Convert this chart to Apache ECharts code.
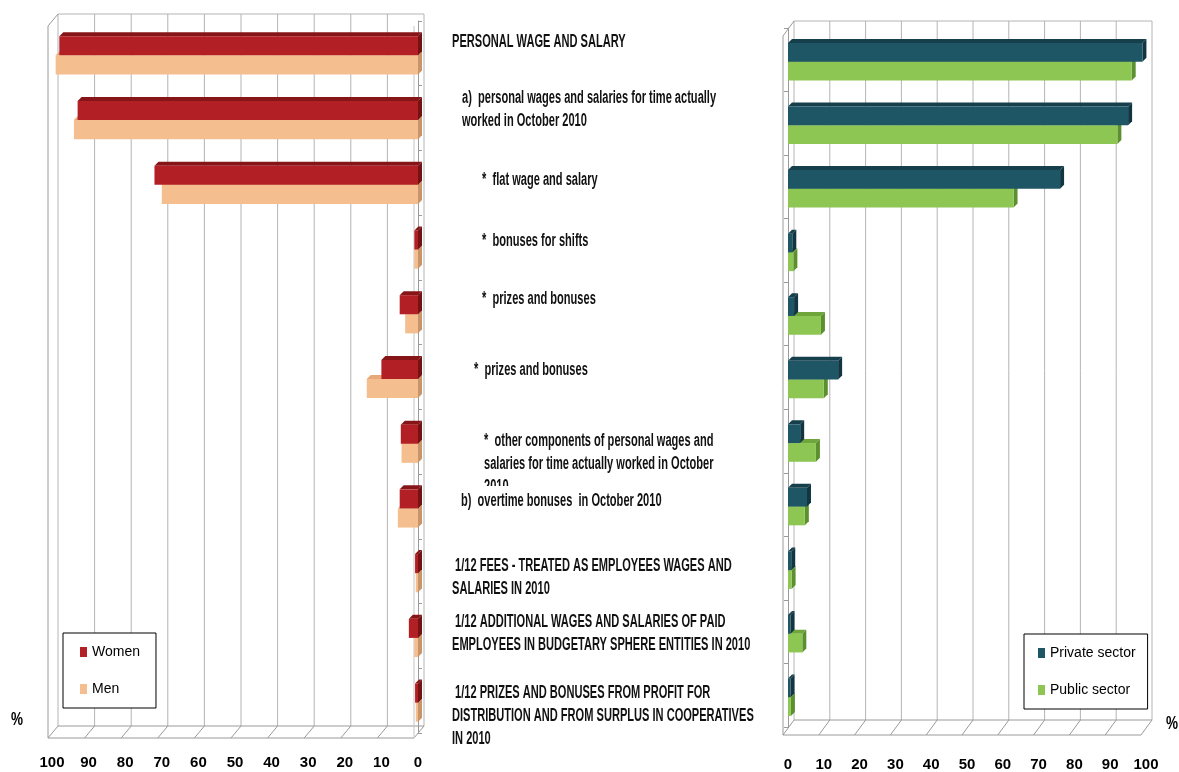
<!DOCTYPE html>
<html><head><meta charset="utf-8">
<script src="https://cdn.jsdelivr.net/npm/echarts@6/dist/echarts.min.js"></script>
<style>html,body{margin:0;padding:0;background:#fff}#c{width:1179px;height:772px}</style>
</head><body><div id="c"></div>
<script>
// ---------------- DATA ----------------
const categories = [
  'PERSONAL WAGE AND SALARY',
  'a)  personal wages and salaries for time actually\nworked in October 2010',
  '*  flat wage and salary',
  '*  bonuses for shifts',
  '*  prizes and bonuses',
  '*  prizes and bonuses',
  '*  other components of personal wages and\nsalaries for time actually worked in October\n2010',
  'b)  overtime bonuses  in October 2010',
  ' 1/12 FEES - TREATED AS EMPLOYEES WAGES AND\nSALARIES IN 2010',
  ' 1/12 ADDITIONAL WAGES AND SALARIES OF PAID\nEMPLOYEES IN BUDGETARY SPHERE ENTITIES IN 2010',
  ' 1/12 PRIZES AND BONUSES FROM PROFIT FOR\nDISTRIBUTION AND FROM SURPLUS IN COOPERATIVES\nIN 2010'
];
const women         = [98, 93, 72, 1, 5, 10, 4.7, 5, 0.8, 2.5, 0.8];
const men           = [99, 94, 70, 1, 3.5, 14, 4.5, 5.5, 0.6, 1, 0.6];
const privateSector = [99, 95, 76, 1.2, 1.7, 14, 3.4, 5.3, 0.9, 0.7, 0.7];
const publicSector  = [96, 92, 63, 1.5, 9.2, 10, 7.8, 4.7, 1, 4, 0.8];
const axisTicks     = [0, 10, 20, 30, 40, 50, 60, 70, 80, 90, 100];
const seriesNames   = { women: 'Women', men: 'Men', priv: 'Private sector', pub: 'Public sector' };
const unitLabel     = '%';

// ---------------- LAYOUT / STYLE ----------------
const FONT = '"Liberation Sans", Arial, sans-serif';
const GL = { left: 52, top: 21, width: 366, height: 712 };
const GR = { left: 788, top: 28, width: 358, height: 699 };
const labelX  = [452, 462, 482, 482, 482, 474, 484, 461, 452, 452, 452];
const labelDy = [-11, -20, -3, -7, -13, -7, -1, -5, -5, -14, -8];
const LABEL_SCALE_X = 0.615;

const chart = echarts.init(document.getElementById('c'), null, { renderer: 'canvas' });

function bar3d(front, topC, sideC, slot) {
  return function (params, api) {
    const v = api.value(0), c = api.value(1);
    const p0 = api.coord([0, c]), p1 = api.coord([v, c]);
    const band = api.size([0, 1])[1];
    const h = band * 0.295;
    const y = p0[1] + 2 - h + slot * h;
    const xl = Math.min(p0[0], p1[0]), xr = Math.max(p0[0], p1[0]);
    const d = 4;
    return {
      type: 'group',
      children: [
        { type: 'polygon', shape: { points: [[xl, y], [xr, y], [xr + d, y - d], [xl + d, y - d]] }, style: { fill: topC } },
        { type: 'polygon', shape: { points: [[xr, y], [xr + d, y - d], [xr + d, y + h - d], [xr, y + h]] }, style: { fill: sideC } },
        { type: 'rect', shape: { x: xl, y: y, width: Math.max(xr - xl, 0.5), height: h }, style: { fill: front } }
      ]
    };
  };
}
const toPairs = arr => arr.map((v, i) => [v, i]);

const xAxisCommon = {
  type: 'value', min: axisTicks[0], max: axisTicks[axisTicks.length - 1], interval: axisTicks[1] - axisTicks[0],
  axisLine: { show: false }, axisTick: { show: false }, splitLine: { show: false },
  axisLabel: { fontSize: 15, fontWeight: 'bold', color: '#000', fontFamily: FONT }
};
const yAxisCommon = {
  type: 'category', data: categories, inverse: true,
  axisLine: { show: true, lineStyle: { color: '#9a9a9a', width: 1 } },
  axisTick: { show: true, length: 4, lineStyle: { color: '#9a9a9a' } },
  axisLabel: { show: false }, splitLine: { show: false }
};
const legendCommon = {
  orient: 'vertical', itemWidth: 7, itemHeight: 10, itemGap: 19,
  borderColor: '#000', borderWidth: 1, backgroundColor: '#fff',
  textStyle: { fontSize: 14, color: '#000', fontFamily: FONT, lineHeight: 18 },
  selectedMode: false
};

const option = {
  animation: false,
  backgroundColor: '#fff',
  textStyle: { fontFamily: FONT },
  grid: [GL, GR],
  xAxis: [
    Object.assign({}, xAxisCommon, { gridIndex: 0, inverse: true, axisLabel: Object.assign({}, xAxisCommon.axisLabel, { margin: 22 }) }),
    Object.assign({}, xAxisCommon, { gridIndex: 1, axisLabel: Object.assign({}, xAxisCommon.axisLabel, { margin: 30 }) })
  ],
  yAxis: [
    Object.assign({}, yAxisCommon, { gridIndex: 0, position: 'right', offset: 6 }),
    Object.assign({}, yAxisCommon, { gridIndex: 1, position: 'left', offset: 5 })
  ],
  legend: [
    Object.assign({}, legendCommon, {
      left: 63, top: 633, padding: [10, 16, 10, 17],
      data: [{ name: seriesNames.women, icon: 'rect' }, { name: seriesNames.men, icon: 'rect' }]
    }),
    Object.assign({}, legendCommon, {
      left: 1024, top: 634, padding: [10, 12, 10, 14],
      data: [{ name: seriesNames.priv, icon: 'rect' }, { name: seriesNames.pub, icon: 'rect' }]
    })
  ],
  series: [
    { type: 'custom', name: seriesNames.men, xAxisIndex: 0, yAxisIndex: 0, encode: { x: 0, y: 1 },
      itemStyle: { color: '#F5BE8F' }, renderItem: bar3d('#F5BE8F', '#E6AA78', '#C8956A', 1), data: toPairs(men) },
    { type: 'custom', name: seriesNames.women, xAxisIndex: 0, yAxisIndex: 0, encode: { x: 0, y: 1 },
      itemStyle: { color: '#B21F24' }, renderItem: bar3d('#B21F24', '#861518', '#731113', 0), data: toPairs(women) },
    { type: 'custom', name: seriesNames.pub, xAxisIndex: 1, yAxisIndex: 1, encode: { x: 0, y: 1 },
      itemStyle: { color: '#8DC653' }, renderItem: bar3d('#8DC653', '#6FA53A', '#5C8F2E', 1), data: toPairs(publicSector) },
    { type: 'custom', name: seriesNames.priv, xAxisIndex: 1, yAxisIndex: 1, encode: { x: 0, y: 1 },
      itemStyle: { color: '#1F5666' }, renderItem: bar3d('#1F5666', '#163F4C', '#123542', 0), data: toPairs(privateSector) }
  ]
};
chart.setOption(option);

// ---------------- 3D frame + middle labels ----------------
function frame(xi, G, back, front, innerEdge) {
  const els = [];
  const xs = axisTicks.map(v => chart.convertToPixel({ xAxisIndex: xi }, v));
  const xMin = Math.min.apply(null, xs), xMax = Math.max.apply(null, xs);
  const topB = G.top + back[1], botB = G.top + G.height + back[1];
  const topF = G.top + front[1], botF = G.top + G.height + front[1];
  const ln = (x1, y1, x2, y2, c) => ({ type: 'line', silent: true, z: -1,
    shape: { x1, y1, x2, y2 }, style: { stroke: c || '#b4b4b4', lineWidth: 1 } });
  xs.forEach(x => {
    els.push(ln(x + back[0], topB, x + back[0], botB));
    els.push(ln(x + back[0], botB, x + front[0], botF, '#9a9a9a'));
  });
  els.push(ln(xMin + back[0], topB, xMax + back[0], topB));
  els.push(ln(xMin + back[0], botB, xMax + back[0], botB, '#9a9a9a'));
  els.push(ln(xMin + front[0], botF, xMax + front[0], botF, '#9a9a9a'));
  els.push(ln(xMin + front[0], topF, xMin + front[0], botF, '#9a9a9a'));
  els.push(ln(xMin + front[0], topF, xMin + back[0], topB, '#9a9a9a'));
  if (innerEdge) els.push(ln(xMax + front[0], topF, xMax + front[0], botF, '#c4c4c4'));
  return els;
}

const graphics = [];
graphics.push.apply(graphics, frame(0, GL, [6, -7], [-4, 5], true));
graphics.push.apply(graphics, frame(1, GR, [6, -7], [-5, 8], false));

const PAD_TOP = 4;
categories.forEach((c, i) => {
  const yc = chart.convertToPixel({ yAxisIndex: 0 }, i);
  graphics.push({
    type: 'text', z: 10, silent: true,
    x: labelX[i], y: yc + labelDy[i] - 11.5 - PAD_TOP,
    scaleX: LABEL_SCALE_X,
    style: {
      text: c, fill: '#111', font: 'bold 18px ' + FONT, lineHeight: 23,
      verticalAlign: 'top', align: 'left', backgroundColor: '#fff', padding: [PAD_TOP, 2, 0, 0]
    }
  });
});
graphics.push({ type: 'text', x: 17, y: 720, scaleX: 0.75, style: { text: unitLabel, fill: '#000', font: 'bold 18px ' + FONT, align: 'center', verticalAlign: 'middle' } });
graphics.push({ type: 'text', x: 1172, y: 724, scaleX: 0.75, style: { text: unitLabel, fill: '#000', font: 'bold 18px ' + FONT, align: 'center', verticalAlign: 'middle' } });

chart.setOption({ graphic: { elements: graphics } });
</script>
</body></html>
